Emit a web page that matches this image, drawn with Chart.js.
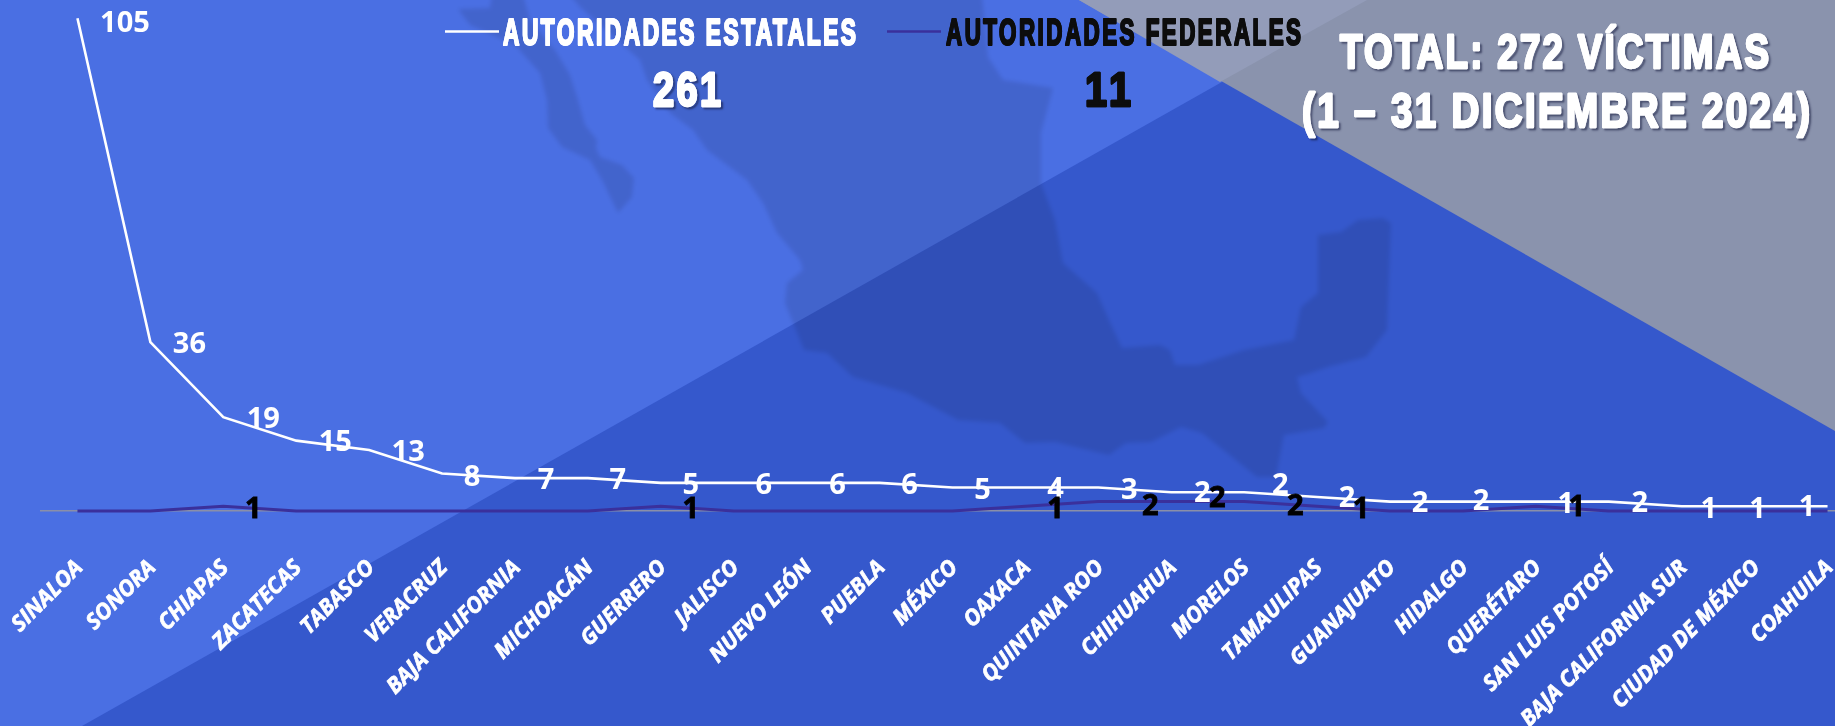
<!DOCTYPE html>
<html lang="es"><head><meta charset="utf-8"><title>Víctimas diciembre 2024</title>
<script src="https://cdn.jsdelivr.net/npm/chart.js@4"></script>
<style>
html,body{margin:0;padding:0;width:1835px;height:726px;overflow:hidden;background:#3558cc}
#bg{position:absolute;left:0;top:0}
#c{position:absolute;left:0;top:0}
</style></head><body>
<svg id="bg" width="1835" height="726" viewBox="0 0 1835 726" xmlns="http://www.w3.org/2000/svg">
<defs><filter id="b"><feGaussianBlur stdDeviation="2"/></filter></defs>
<rect width="1835" height="726" fill="#3558cc"/>
<polygon points="0,0 1367,0 82,726 0,726" fill="#4a6fe3"/>
<g fill="#000" fill-opacity=".1" filter="url(#b)">
<path d="M492,-5 L490,8 L458,9 L470,25 L515,45 L540,73 L547,100 L548,128 L562,147 L590,160 L602,180 L618,213 L632,197 L634,178 L622,165 L600,157 L596,148 L597,140 L585,125 L578,100 L570,75 L555,50 L530,20 L523,-5 Z"/>
<path d="M570,-5 L580,7 L640,60 L647,80 L670,113 L693,130 L707,150 L747,180 L763,203 L777,233 L800,260 L803,270 L787,283 L785,303 L804,350 L827,353 L853,377 L907,393 L958,420 L1000,423 L1025,443 L1055,442 L1109,455 L1126,443 L1151,442 L1181,427 L1202,433 L1257,477 L1276,477 L1284,435 L1324,428 L1328,422 L1301,393 L1297,377 L1311,373 L1328,367 L1366,357 L1387,330 L1391,223 L1383,218 L1358,220 L1341,232 L1318,235 L1318,293 L1301,307 L1294,340 L1244,350 L1198,365 L1175,365 L1170,350 L1160,345 L1122,348 L1109,320 L1097,293 L1063,263 L1055,220 L1041,183 L1041,133 L1053,88 L1003,80 L988,57 L982,-5 Z"/>
</g>
<polygon points="1079,0 1835,0 1835,431" fill="#8a93ad"/>
<polygon points="1079,0 1367,0 1220,82" fill="#939cb9"/>
</svg>
<canvas id="c" width="1864" height="726" style="width:1864px;height:726px"></canvas>
<script>
const categories=["SINALOA","SONORA","CHIAPAS","ZACATECAS","TABASCO","VERACRUZ","BAJA CALIFORNIA","MICHOACÁN","GUERRERO","JALISCO","NUEVO LEÓN","PUEBLA","MÉXICO","OAXACA","QUINTANA ROO","CHIHUAHUA","MORELOS","TAMAULIPAS","GUANAJUATO","HIDALGO","QUERÉTARO","SAN LUIS POTOSÍ","BAJA CALIFORNIA SUR","CIUDAD DE MÉXICO","COAHUILA"];
const estatales=[105,36,19,15,13,8,7,7,5,6,6,6,5,4,3,2,2,2,2,2,1,2,1,1,1];
const federales=[0,0,1,0,0,0,0,0,1,0,0,0,0,1,2,2,2,1,0,0,1,0,0,0,0];
const estatalesNombre="AUTORIDADES ESTATALES";
const federalesNombre="AUTORIDADES FEDERALES";
const tituloLineas=["TOTAL: 272 VÍCTIMAS","(1 – 31 DICIEMBRE 2024)"];
const estatalesDx=[47.5,39,40,39,39,30,31,30,30,30,31,30,30,30,31,31,36,30,30,18,30,31,27,3,-20.5];
const estatalesDy=[5,3,3,2,3,4,3,3,3,3,3,3,3.5,2.5,3.5,2,-6,2,2.5,0,3.5,2.5,3,3,1];
const federalesDx=[0,0,30,0,0,0,0,0,30,0,0,0,0,30,52,46,51,44,0,0,41,0,0,0,0];
const federalesDy=[0,0,3,0,0,0,0,0,3,0,0,0,0,3,5,-2.6,5,3,0,0,1,0,0,0,0];
const DISPLAY='"Liberation Sans Narrow","Liberation Sans",sans-serif';

function fitText(ctx,txt,x0,x1,base,size,color,shadow,spacing,stroke){
  ctx.save();
  ctx.font='bold '+size+'px '+DISPLAY;
  ctx.letterSpacing=(spacing||0)+'px';
  ctx.textAlign='left';ctx.textBaseline='alphabetic';
  const w=ctx.measureText(txt).width-(spacing||0);
  ctx.translate(x0,base);ctx.scale((x1-x0)/w,1);
  ctx.lineJoin='round';ctx.lineWidth=stroke||1.6;ctx.strokeStyle=color;ctx.fillStyle=color;
  if(shadow){ctx.shadowColor='rgba(20,25,60,.65)';ctx.shadowOffsetX=2;ctx.shadowOffsetY=2;ctx.shadowBlur=2;}
  ctx.strokeText(txt,0,0);
  ctx.shadowColor='transparent';
  ctx.fillText(txt,0,0);ctx.strokeText(txt,0,0);
  ctx.restore();
}
const sum=a=>a.reduce((s,v)=>s+v,0);

const overlay={id:'overlay',afterDatasetsDraw(chart){
  const ctx=chart.ctx;
  const fedMeta=chart.getDatasetMeta(0).data, estMeta=chart.getDatasetMeta(1).data;
  ctx.save();
  ctx.font='bold 29px "Open Sans",sans-serif';
  ctx.textAlign='center';ctx.textBaseline='middle';
  ctx.fillStyle='#fff';
  estatales.forEach((v,i)=>ctx.fillText(v,estMeta[i].x+estatalesDx[i],estMeta[i].y+estatalesDy[i]));
  ctx.fillStyle='#000';ctx.strokeStyle='#000';ctx.lineWidth=0.8;
  federales.forEach((v,i)=>{if(v){const x=fedMeta[i].x+federalesDx[i],y=fedMeta[i].y+federalesDy[i];ctx.fillText(v,x,y);ctx.strokeText(v,x,y);}});
  ctx.restore();
  const ds=chart.data.datasets;
  ctx.save();
  ctx.lineWidth=2.6;ctx.strokeStyle=ds[1].borderColor;
  ctx.beginPath();ctx.moveTo(445,31.5);ctx.lineTo(499,31.5);ctx.stroke();
  ctx.strokeStyle=ds[0].borderColor;
  ctx.beginPath();ctx.moveTo(887,31.5);ctx.lineTo(941,31.5);ctx.stroke();
  ctx.restore();
  fitText(ctx,ds[1].label,503,856,44.5,36,'#fff',false,4,2);
  fitText(ctx,ds[0].label,946,1301,44.5,36,'#0d0d0d',false,4,2);
  fitText(ctx,String(sum(estatales)),653,721,106,49,'#fff',true,3,2.4);
  fitText(ctx,String(sum(federales)),1085,1131,106,49,'#0d0d0d',false,5,2.4);
  fitText(ctx,tituloLineas[0],1340,1769,68,49,'#fff',true,3,2.4);
  fitText(ctx,tituloLineas[1],1302,1810,126.5,49,'#fff',true,3,2.4);
}};

new Chart(document.getElementById('c'),{
  type:'line',
  data:{labels:categories,datasets:[
    {label:federalesNombre,data:federales,borderColor:'#3a309c',borderWidth:3,pointRadius:0,tension:0,fill:false,clip:false},
    {label:estatalesNombre,data:estatales,borderColor:'#ffffff',borderWidth:2.6,pointRadius:0,tension:0,fill:false,clip:false}
  ]},
  options:{
    responsive:false,animation:false,events:[],
    layout:{padding:{left:41,right:0,top:18.3,bottom:0}},
    plugins:{legend:{display:false},tooltip:{enabled:false},title:{display:false}},
    scales:{
      x:{stacked:true,offset:true,
        grid:{display:false,drawTicks:false},
        border:{display:true,color:'#8a8fa8',width:1.5},
        afterFit(s){s.height=215;s.paddingLeft=0;s.paddingRight=0;},
        ticks:{autoSkip:false,maxRotation:45,minRotation:45,padding:44,labelOffset:2,color:'#fff',
          textStrokeColor:'#fff',textStrokeWidth:0.7,
          font:{family:'"Open Sans",sans-serif',size:22,weight:'bold',style:'italic'}}},
      y:{stacked:true,display:false,min:0,max:105}
    }
  },
  plugins:[overlay]
});
</script>
</body></html>
